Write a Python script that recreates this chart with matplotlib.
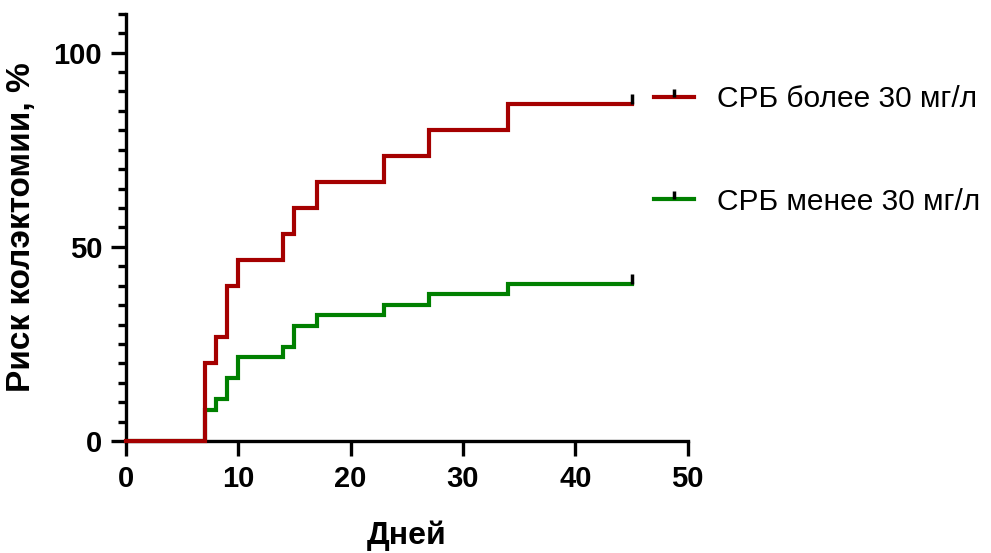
import numpy as np
import matplotlib
matplotlib.use("Agg")
import matplotlib.pyplot as plt
from matplotlib.lines import Line2D
from matplotlib.path import Path

# event days (step positions) and cumulative risk, %
days = [0, 7, 8, 9, 10, 14, 15, 17, 23, 27, 34, 45]
risk_high = [0, 20.0, 26.7, 40.0, 46.7, 53.3, 60.0, 66.7, 73.3, 80.0, 86.7, 86.7]
risk_low = [0, 8.1, 10.8, 16.2, 21.6, 24.3, 29.7, 32.4, 35.1, 37.8, 40.5, 40.5]
censor_day = 45

label_high = "СРБ более 30 мг/л"
label_low = "СРБ менее 30 мг/л"
red = "#a50000"
green = "#008000"

plt.rcParams['font.family'] = ['Liberation Sans Narrow', 'Liberation Sans', 'DejaVu Sans']

# censoring tick: short vertical stroke going up from the line
tick = Path([(0, 0), (0, 1)], [Path.MOVETO, Path.LINETO])

fig = plt.figure(figsize=(9.91, 5.53), dpi=100)
ax = fig.add_axes([0.127, 0.2025, 0.567, 0.7725])

ax.step(days, risk_low, where='post', color=green, lw=3, solid_joinstyle='miter', zorder=3)
ax.step(days, risk_high, where='post', color=red, lw=3, solid_joinstyle='miter', zorder=3,
        clip_on=False)
ax.plot([censor_day], [risk_low[-1]], ls='none', marker=tick, ms=14, mew=2.5, mec='black', zorder=4)
ax.plot([censor_day], [risk_high[-1]], ls='none', marker=tick, ms=14, mew=2.5, mec='black', zorder=4)

ax.set_xlim(0, 50)
ax.set_ylim(0, 110)
ax.set_xticks(np.arange(0, 51, 10))
ax.set_yticks([0, 50, 100])
ax.set_yticks(np.arange(0, 111, 5), minor=True)
for s in ['top', 'right']:
    ax.spines[s].set_visible(False)
for s in ['left', 'bottom']:
    ax.spines[s].set_linewidth(2.4)
    ax.spines[s].set_capstyle('projecting')
ax.tick_params(which='major', length=11, width=2.4, labelsize=21, pad=6)
ax.tick_params(which='minor', length=6, width=2.4)
for lab in ax.get_xticklabels() + ax.get_yticklabels():
    lab.set_fontweight('bold')

ax.set_xlabel("Дней", fontsize=23, fontweight='bold', labelpad=20)
ax.set_ylabel("Риск колэктомии, %", fontsize=24, fontweight='bold', labelpad=12)

handles = [
    Line2D([], [], color=red, lw=3, marker=tick, ms=12, mew=2.5, mec='black'),
    Line2D([], [], color=green, lw=3, marker=tick, ms=12, mew=2.5, mec='black'),
]
fig.legend(handles, [label_high, label_low], loc='center left',
           bbox_to_anchor=(0.633, 0.728), frameon=False, fontsize=21.5,
           handlelength=1.35, handletextpad=0.75, labelspacing=2.5, numpoints=1)

fig.savefig("out.png", dpi=100)
